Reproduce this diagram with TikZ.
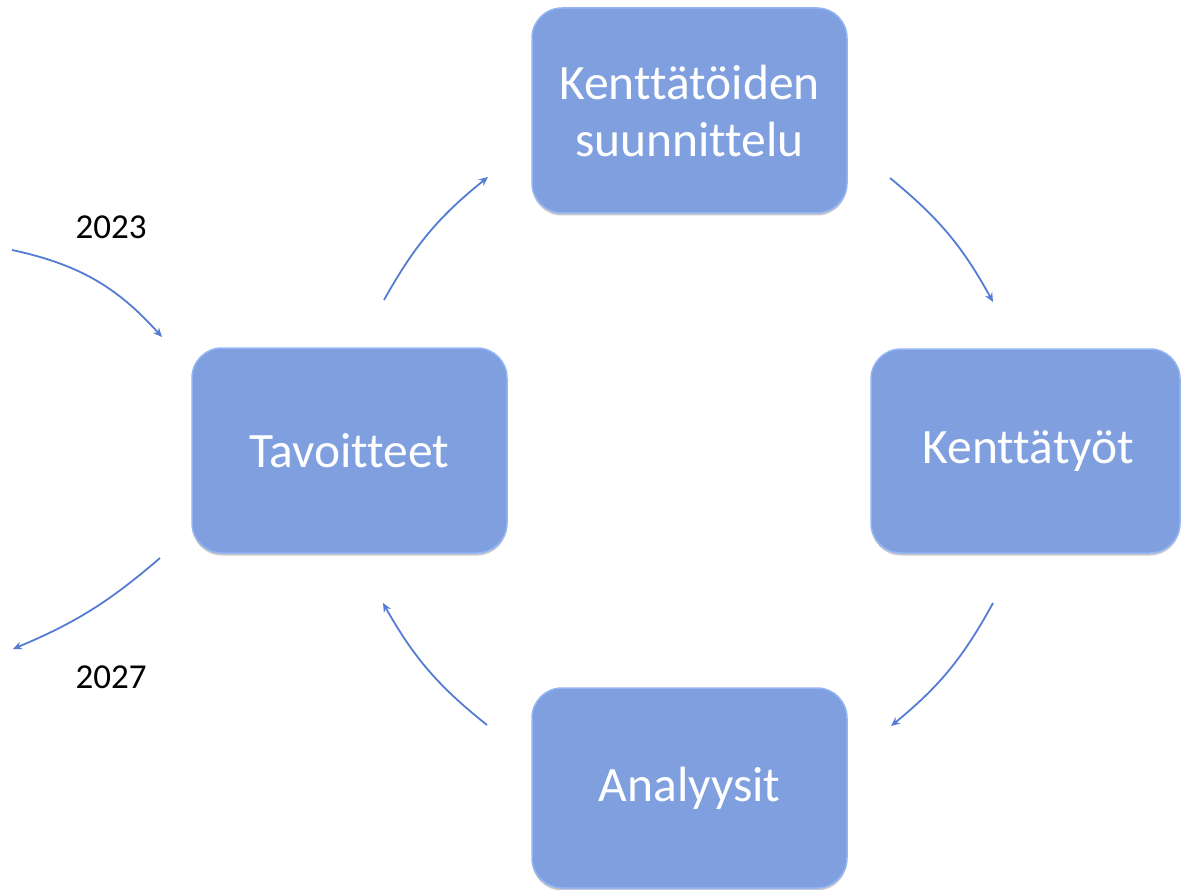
\documentclass[tikz,border=0pt]{standalone}
\usepackage{fontspec}
\setmainfont{Carlito}[Ligatures={NoCommon}]
\usetikzlibrary{arrows.meta,shadows}
\definecolor{boxfill}{RGB}{127,159,223}
\definecolor{boxrim}{RGB}{148,180,244}
\definecolor{arrowblue}{RGB}{84,124,212}
\tikzset{
  stepbox/.style={rounded corners=30pt, fill=boxfill, draw=boxrim, line width=1.5pt,
    text=white, align=center, font=\fontsize{49.5}{57}\selectfont, inner sep=0pt,
    drop shadow={shadow xshift=0pt, shadow yshift=-2.5pt, opacity=0.35, fill=black!60}},
  flow/.style={draw=arrowblue, line width=1.8pt, -{Stealth[length=9pt,width=8pt]}},
  yearlabel/.style={font=\fontsize{35}{40}\selectfont, text=black, inner sep=0pt}
}
\begin{document}
\begin{tikzpicture}[x=1pt,y=-1pt]
\useasboundingbox (0,0) rectangle (1182,890);
\node[stepbox, minimum width=315pt, minimum height=205pt] (suun) at (689.5,110.5) {Kenttätöiden\\suunnittelu};
\node[stepbox, minimum width=315pt, minimum height=205pt] (tav) at (349.5,450.5) {Tavoitteet};
\node[stepbox, minimum width=309pt, minimum height=204pt] (kent) at (1025.5,451) {\hspace*{6pt}Kenttätyöt};
\node[stepbox, minimum width=315pt, minimum height=200pt] (anal) at (689.5,788) {Analyysit};
\node[yearlabel] (y23) at (111,227) {2023};
\node[yearlabel] (y27) at (111,677) {2027};
\coordinate (a1s) at (384,300); \coordinate (a1e) at (488,177);
\coordinate (a2s) at (890,178); \coordinate (a2e) at (993,302);
\coordinate (a3s) at (993,603); \coordinate (a3e) at (891,726);
\coordinate (a4s) at (487,725); \coordinate (a4e) at (383,603);
\coordinate (b1s) at (12,250); \coordinate (b1e) at (162,337);
\coordinate (b2s) at (160,558); \coordinate (b2e) at (13,649);
\draw[flow] (a1s) to[bend left=11] (a1e);
\draw[flow] (a2s) to[bend left=11] (a2e);
\draw[flow] (a3s) to[bend left=11] (a3e);
\draw[flow] (a4s) to[bend left=11] (a4e);
\draw[flow] (b1s) to[bend left=18] (b1e);
\draw[flow] (b2s) to[bend left=9] (b2e);
\end{tikzpicture}
\end{document}
